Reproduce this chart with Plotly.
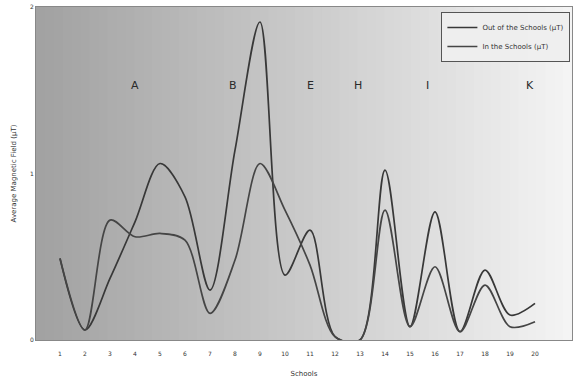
import plotly.graph_objects as go

# sample labels along the x axis (unreadable in source, numbered)
samples = [str(i) for i in range(1, 21)]

# average magnetic field readings (uT)
out_school = [0.49, 0.06, 0.37, 0.71, 1.06, 0.86, 0.30, 1.14, 1.91, 0.39,
              0.66, 0.02, 0.00, 1.02, 0.08, 0.77, 0.05, 0.42, 0.15, 0.22]
in_school = [0.49, 0.06, 0.72, 0.62, 0.64, 0.60, 0.16, 0.48, 1.06, 0.78,
             0.45, 0.02, 0.00, 0.78, 0.08, 0.44, 0.05, 0.33, 0.08, 0.11]

group_names = ["A", "B", "E", "H", "I", "K"]
group_pos = [3.0, 6.9, 10.0, 11.9, 14.7, 18.8]

xs = list(range(len(samples)))

fig = go.Figure()
fig.add_trace(go.Scatter(x=xs, y=out_school, mode="lines", name="Out of the Schools (µT)",
                         line=dict(color="#383838", width=1.7, shape="spline", smoothing=0.9)))
fig.add_trace(go.Scatter(x=xs, y=in_school, mode="lines", name="In the Schools (µT)",
                         line=dict(color="#454545", width=1.7, shape="spline", smoothing=0.9)))

# horizontal grey gradient behind the plot area
n = 60
c0, c1 = 162, 244
for i in range(n):
    g = int(c0 + (c1 - c0) * i / (n - 1))
    fig.add_shape(type="rect", xref="x domain", yref="y domain",
                  x0=i / n, x1=(i + 1) / n + 0.002, y0=0, y1=1,
                  fillcolor=f"rgb({g},{g},{g})", line=dict(width=0), layer="below")

for name, pos in zip(group_names, group_pos):
    fig.add_annotation(x=pos, y=1.53, text=name, showarrow=False,
                       font=dict(size=11, color="#2a2a2a"))

fig.update_layout(
    width=579, height=383,
    margin=dict(l=36, r=7, t=7, b=43, autoexpand=False),
    paper_bgcolor="white",
    plot_bgcolor="#d0d0d0",
    font=dict(family="DejaVu Sans", size=6, color="#333333"),
    showlegend=True,
    legend=dict(x=0.997, y=0.985, xanchor="right", yanchor="top",
                bgcolor="rgba(238,238,238,0.95)", bordercolor="#555555", borderwidth=1,
                font=dict(size=7), tracegroupgap=8, itemwidth=30),
)
fig.update_xaxes(range=[-0.96, 20.48], tickvals=xs, ticktext=samples, showgrid=False,
                 showline=True, linecolor="#888888", mirror=True, ticks="",
                 automargin=False, ticklabelstandoff=8,
                 title=dict(text="Schools", font=dict(size=7), standoff=14),
                 zeroline=False)
fig.update_yaxes(range=[0, 2], tickvals=[0, 1, 2], showgrid=False,
                 showline=True, linecolor="#888888", mirror=True, ticks="",
                 automargin=False,
                 title=dict(text="Average Magnetic Field (µT)", font=dict(size=7), standoff=12),
                 zeroline=False)

# drop the default page margin so the figure fills the window
fig.write_html("out.html", config={"displayModeBar": False},
               post_script="document.body.style.margin='0';")
